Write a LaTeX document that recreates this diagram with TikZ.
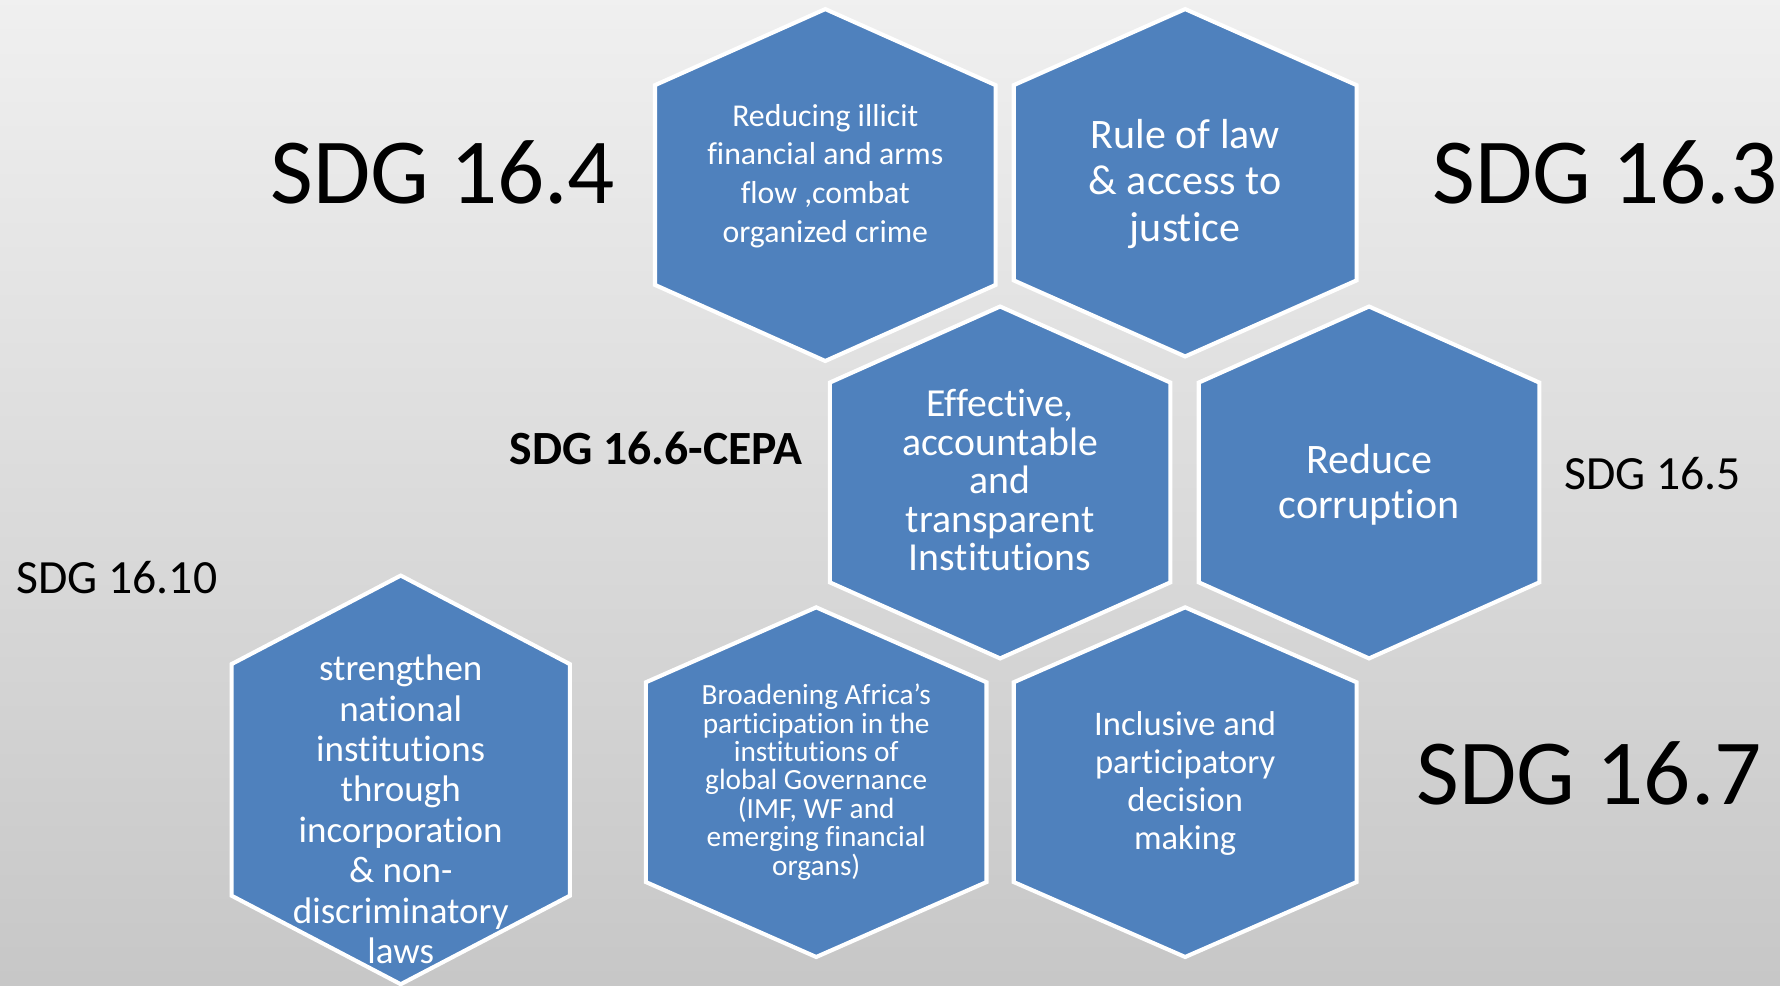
\documentclass[tikz,border=0pt]{standalone}
\usepackage{fontspec}
\setmainfont{Carlito}[Ligatures=NoCommon]
\usetikzlibrary{calc}
\definecolor{hexblue}{HTML}{4F81BD}
\tikzset{
  hexa/.style={fill=hexblue, draw=white, line width=1.8pt, line join=miter},
  hextext/.style={text=white, align=center, inner sep=0},
  sdg/.style={text=black, inner sep=0},
}
\begin{document}
\begin{tikzpicture}[x=0.5pt, y=-0.5pt]
\shade[top color=black!6, bottom color=black!22] (0,0) rectangle (1568,868);
\useasboundingbox (0,0) rectangle (1568,868);
% hexagons: centre x / centre y / half width / half height / shoulder
\foreach \cx/\cy/\hw/\hh/\sh in {727/163/150/155/67, 1044/161/151/153/67,
  881/425/150/155/67, 1206/425/150/155/67, 353/687/149/180/78,
  719/689/150/154/66, 1044/689/151/154/66} {
\draw[hexa] (\cx,{\cy-\hh}) --++(\hw,\sh) --++(0,{2*(\hh-\sh)}) --++(-\hw,\sh)
  --++(-\hw,-\sh) --++(0,{-2*(\hh-\sh)}) -- cycle;
}
\node[hextext, font=\fontsize{14}{17}\selectfont] (illicit) at (727,155)
  {Reducing illicit\\financial and arms\\flow ,combat\\organized crime};
\node[hextext, font=\fontsize{18.5}{20.5}\selectfont] (justice) at (1044,162)
  {Rule of law\\\& access to\\justice};
\node[hextext, font=\fontsize{17.5}{17}\selectfont] (effective) at (881,423)
  {Effective,\\accountable\\and\\transparent\\Institutions};
\node[hextext, font=\fontsize{18.5}{20}\selectfont] (corruption) at (1206,427)
  {Reduce\\corruption};
\node[hextext, font=\fontsize{16.3}{17.8}\selectfont] (national) at (353,713)
  {strengthen\\national\\institutions\\through\\incorporation\\\& non-\\discriminatory\\laws};
\node[hextext, font=\fontsize{12.9}{12.5}\selectfont] (africa) at (719,689)
  {Broadening Africa’s\\participation in the\\institutions of\\global Governance\\(IMF, WF and\\emerging financial\\organs)};
\node[hextext, font=\fontsize{15.2}{16.7}\selectfont] (inclusive) at (1044,690)
  {Inclusive and\\participatory\\decision\\making};
% target labels
\node[sdg, font=\fontsize{41}{49}\selectfont] (sdg4) at (390,152) {SDG 16.4};
\node[sdg, font=\fontsize{41}{49}\selectfont] (sdg3) at (1414,152) {SDG 16.3};
\node[sdg, font=\fontsize{21}{25}\selectfont\bfseries] (sdg6) at (578,395) {SDG 16.6-CEPA};
\node[sdg, font=\fontsize{21}{25}\selectfont] (sdg5) at (1456,417) {SDG 16.5};
\node[sdg, font=\fontsize{21}{25}\selectfont] (sdg10) at (103,509) {SDG 16.10};
\node[sdg, font=\fontsize{41}{49}\selectfont] (sdg7) at (1400,681) {SDG 16.7};
\end{tikzpicture}
\end{document}
